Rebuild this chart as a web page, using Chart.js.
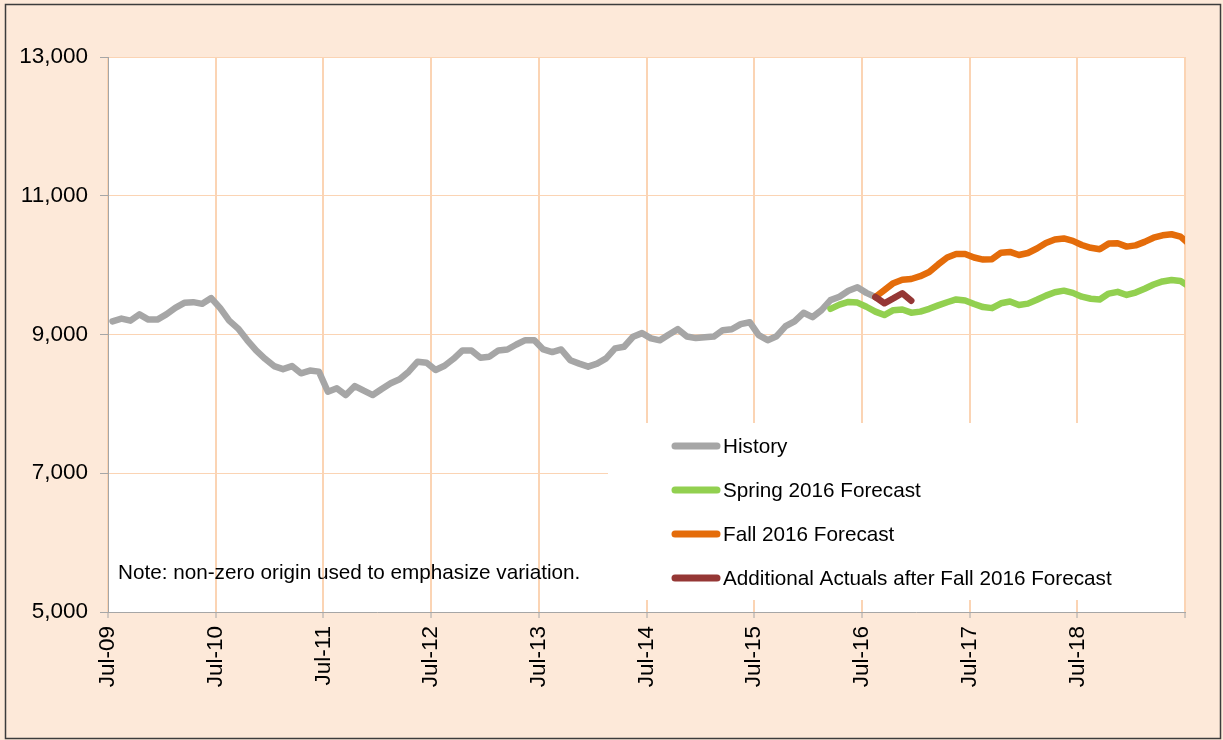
<!DOCTYPE html>
<html><head><meta charset="utf-8">
<script src="https://cdn.jsdelivr.net/npm/chart.js@4"></script>
<style>
html,body{margin:0;padding:0;background:#FDE9D9;}
canvas{display:block;}
</style>
</head><body>
<canvas id="c" width="1223" height="740"></canvas>
<script>
// ---- data ----
const tickLabels = ['Jul-09','Jul-10','Jul-11','Jul-12','Jul-13','Jul-14','Jul-15','Jul-16','Jul-17','Jul-18'];
const monthsOnAxis = 120; // Jul-09 .. Jul-19
const yTicks = [5000, 7000, 9000, 11000, 13000];

const historyStart = 0; // months after Jul-09
const historyValues = [9190,9230,9200,9290,9215,9215,9290,9385,9457,9466,
  9442,9525,9380,9200,9085,8920,8770,8650,8545,8500,
  8545,8440,8480,8465,8175,8224,8127,8257,8190,8127,
  8214,8296,8354,8464,8608,8594,8488,8550,8650,8770,
  8770,8665,8680,8770,8784,8856,8918,8918,8784,8746,
  8784,8630,8580,8536,8580,8655,8800,8823,8968,9020,
  8944,8916,9000,9077,8972,8948,8960,8970,9062,9076,
  9150,9177,8990,8918,8976,9120,9190,9313,9250,9352,
  9496,9545,9630,9680,9600,9540];

const springStart = 80;
const springValues = [9370,9430,9470,9460,9400,9330,9280,9350,9360,9315,
  9330,9370,9420,9465,9505,9490,9440,9395,9380,9450,
  9475,9425,9445,9500,9560,9610,9632,9600,9545,9515,
  9505,9590,9615,9570,9605,9660,9720,9765,9786,9771,9690];

const fallStart = 85;
const fallValues = [9540,9640,9740,9790,9800,9840,9900,10010,10110,10160,
  10160,10110,10080,10085,10180,10190,10146,10175,10240,10320,
  10370,10385,10350,10290,10250,10230,10310,10315,10267,10285,
  10335,10395,10430,10445,10411,10300];

const additionalStart = 85;
const additionalValues = [9540,9450,9520,9594,9487];

const seriesNames = ['History','Spring 2016 Forecast','Fall 2016 Forecast','Additional Actuals after Fall 2016 Forecast'];
const seriesColors = ['#A6A6A6','#92D050','#E46C0A','#953735'];
const noteText = 'Note: non-zero origin used to emphasize variation.';

// ---- build ----
function pts(start, vals){ return vals.map((v,i)=>({x:start+i+0.5, y:v})); }
const FONT = "'Liberation Sans', Arial, sans-serif";
const PEACH = '#FDE9D9';
const GRID = '#FBD4B4';

function ds(idx, start, vals, order){
  return {label: seriesNames[idx], data: pts(start, vals), borderColor: seriesColors[idx],
    backgroundColor: seriesColors[idx], borderWidth: 6.5, pointRadius: 0, pointHoverRadius: 0,
    tension: 0, fill: false, borderCapStyle: 'round', borderJoinStyle: 'round', clip: 0, order: order};
}

const bgPlugin = {
  id: 'bg',
  beforeDraw(chart){
    const {ctx, chartArea: a} = chart;
    ctx.save();
    ctx.fillStyle = PEACH; ctx.fillRect(0,0,chart.width,chart.height);
    ctx.fillStyle = '#FFFFFF'; ctx.fillRect(a.left, a.top, a.right-a.left, a.bottom-a.top);
    ctx.restore();
  },
  afterDatasetsDraw(chart){
    const {ctx, chartArea: a} = chart;
    ctx.save();
    // legend box
    const bx = a.left + 500, by = a.top + 366;
    ctx.fillStyle = '#FFFFFF';
    ctx.fillRect(bx, by, a.right - bx - 1, 177);
    ctx.font = '20.7px ' + FONT;
    ctx.textBaseline = 'middle';
    ctx.textAlign = 'left';
    chart.data.datasets.forEach((d, i) => {
      const y = by + 23 + i*44;
      ctx.strokeStyle = d.borderColor; ctx.lineWidth = 7; ctx.lineCap = 'round';
      ctx.beginPath(); ctx.moveTo(bx + 67, y); ctx.lineTo(bx + 109, y); ctx.stroke();
      ctx.fillStyle = '#000';
      ctx.fillText(d.label, bx + 115, y + 1);
    });
    // note
    ctx.fillStyle = '#000';
    ctx.fillText(noteText, a.left + 10, a.top + 516);
    ctx.restore();
  },
  afterDraw(chart){
    const ctx = chart.ctx;
    ctx.save();
    ctx.strokeStyle = '#3C3C3C'; ctx.lineWidth = 1.5;
    ctx.strokeRect(5.5, 4.5, 1215, 734);
    ctx.restore();
  }
};

Chart.defaults.font.family = FONT;
Chart.defaults.color = '#000';

new Chart(document.getElementById('c'), {
  type: 'line',
  data: { datasets: [
    ds(0, historyStart, historyValues, 4),
    ds(1, springStart, springValues, 3),
    ds(2, fallStart, fallValues, 2),
    ds(3, additionalStart, additionalValues, 1)
  ]},
  options: {
    responsive: false, animation: false, devicePixelRatio: 1,
    layout: { padding: { left: 0, top: 57, right: 38, bottom: 0 } },
    plugins: { legend: { display: false }, tooltip: { enabled: false } },
    scales: {
      x: {
        type: 'linear', min: 0, max: monthsOnAxis,
        afterBuildTicks(scale){ scale.ticks = []; for (let v = 0; v <= monthsOnAxis; v += 12) scale.ticks.push({value: v}); },
        afterFit(scale){ scale.height = 128; },
        ticks: {
          autoSkip: false, minRotation: 90, maxRotation: 90, padding: 8,
          font: { size: 22.5 }, color: '#000',
          callback(v){ const k = v/12; return (Number.isInteger(k) && k < tickLabels.length) ? tickLabels[k] : ''; }
        },
        grid: { color: GRID, lineWidth: 2, tickColor: '#A6A6A6', tickLength: 6, tickWidth: 1, drawOnChartArea: true },
        border: { color: '#A6A6A6', width: 1 }
      },
      y: {
        min: 5000, max: 13000,
        afterBuildTicks(scale){ scale.ticks = yTicks.map(v => ({value: v})); },
        afterFit(scale){ scale.width = 108; },
        ticks: { padding: 12, font: { size: 22.5 }, color: '#000',
          callback(v){ return v.toLocaleString('en-US'); } },
        grid: { color: GRID, lineWidth: 1, tickColor: '#A6A6A6', tickLength: 8, tickWidth: 1 },
        border: { color: '#A6A6A6', width: 1 }
      }
    }
  },
  plugins: [bgPlugin]
});
</script>
</body></html>
